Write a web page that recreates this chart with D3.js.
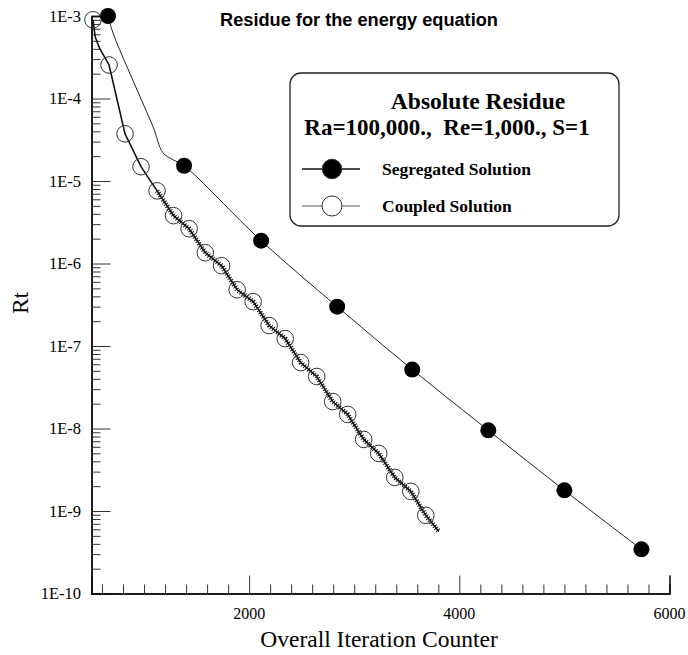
<!DOCTYPE html>
<html><head><meta charset="utf-8">
<script src="https://cdn.jsdelivr.net/npm/d3@7"></script>
<style>body{margin:0;background:#fff}svg{display:block}</style>
</head><body>
<svg id="c" width="688" height="655"></svg>
<script>
// ---- data ----
const segLineX = [657, 705, 838, 962, 1086, 1181, 1276, 1381, 2114, 2838, 3552, 4276, 5000, 5733];
const segLineY = [1e-3, 6.2e-4, 2.42e-4, 1.05e-4, 4.53e-5, 2.19e-5, 1.81e-5, 1.53e-5, 1.89e-6, 3.0e-7, 5.18e-8, 9.5e-9, 1.78e-9, 3.43e-10];
const segMarkX = [657, 1381, 2114, 2838, 3552, 4276, 5000, 5733];
const segMarkY = [1e-3, 1.53e-5, 1.89e-6, 3.0e-7, 5.18e-8, 9.5e-9, 1.78e-9, 3.43e-10];
const cpLineX = [514, 535, 560, 580, 667, 819, 971, 1124, 1281, 1429, 1583, 1738, 1886, 2038, 2190, 2343, 2490, 2643, 2795, 2938, 3090, 3233, 3386, 3538, 3681, 3805];
const cpLineY = [9e-4, 5.6e-4, 4.6e-4, 4.0e-4, 2.55e-4, 3.73e-5, 1.49e-5, 7.6e-6, 3.8e-6, 2.64e-6, 1.35e-6, 9.4e-7, 4.8e-7, 3.45e-7, 1.77e-7, 1.23e-7, 6.3e-8, 4.27e-8, 2.12e-8, 1.48e-8, 7.37e-9, 4.98e-9, 2.55e-9, 1.73e-9, 8.85e-10, 5.66e-10];
const cpMarkX = [514, 667, 819, 971, 1124, 1281, 1429, 1583, 1738, 1886, 2038, 2190, 2343, 2490, 2643, 2795, 2938, 3090, 3233, 3386, 3538, 3681];
const cpMarkY = [9e-4, 2.55e-4, 3.73e-5, 1.49e-5, 7.6e-6, 3.8e-6, 2.64e-6, 1.35e-6, 9.4e-7, 4.8e-7, 3.45e-7, 1.77e-7, 1.23e-7, 6.3e-8, 4.27e-8, 2.12e-8, 1.48e-8, 7.37e-9, 4.98e-9, 2.55e-9, 1.73e-9, 8.85e-10];
const xMajorTicks = [2000, 4000, 6000];
const yMajorTicks = [1e-10, 1e-9, 1e-8, 1e-7, 1e-6, 1e-5, 1e-4, 1e-3];
const yTickLabels = ["1E-10", "1E-9", "1E-8", "1E-7", "1E-6", "1E-5", "1E-4", "1E-3"];
const legendNames = ["Segregated Solution", "Coupled Solution"];
const chartTitle = "Residue for the energy equation";
const legendTitle1 = "Absolute Residue";
const legendTitle2 = "Ra=100,000.,  Re=1,000., S=1";

// ---- layout ----
const L = 91.5, R = 669.5, T = 16, B = 593.5;
const svg = d3.select("#c");
const x = d3.scaleLinear().domain([500, 6000]).range([L, R]);
const y = d3.scaleLog().domain([1e-10, 1e-3]).range([B, T]);
const serif = "'Liberation Serif','Times New Roman',serif";
const sans = "'Liberation Sans',Arial,sans-serif";

// title
svg.append("text").attr("x", 359).attr("y", 26).attr("text-anchor", "middle")
  .attr("font-family", sans).attr("font-weight", "bold").attr("font-size", 18.2).text(chartTitle);

// y axis
const yMinor = [];
yMajorTicks.slice(0, -1).forEach(d => { for (let k = 2; k <= 9; k++) yMinor.push(d * k); });
const gy = svg.append("g").attr("transform", `translate(${L},0)`);
gy.call(d3.axisRight(y).tickValues(yMajorTicks).tickSize(19).tickFormat(() => ""));
gy.append("g").call(d3.axisRight(y).tickValues(yMinor).tickSize(9).tickFormat(() => ""));
gy.selectAll(".domain").attr("stroke", "#111").attr("stroke-width", 1.5);
gy.selectAll(".tick line").attr("stroke", "#333");
svg.selectAll(".ylab").data(yMajorTicks).enter().append("text")
  .attr("x", 81).attr("y", d => y(d) + 5.5).attr("text-anchor", "end")
  .attr("font-family", serif).attr("font-size", 16.5).text((d, i) => yTickLabels[i]);

// x axis
const xMinor = d3.range(600, 6000, 200).filter(v => v % 2000 !== 0);
const gx = svg.append("g").attr("transform", `translate(0,${B})`);
gx.call(d3.axisTop(x).tickValues(xMajorTicks).tickSize(18).tickFormat(() => ""));
gx.append("g").call(d3.axisTop(x).tickValues(xMinor).tickSize(9).tickFormat(() => ""));
gx.selectAll(".domain").attr("stroke", "#111").attr("stroke-width", 1.5);
gx.selectAll(".tick line").attr("stroke", "#333");
svg.selectAll(".xlab").data(xMajorTicks).enter().append("text")
  .attr("x", d => x(d)).attr("y", 619).attr("text-anchor", "middle")
  .attr("font-family", serif).attr("font-size", 16).text(d => d);

// axis titles
svg.append("text").attr("x", 379).attr("y", 647).attr("text-anchor", "middle")
  .attr("font-family", serif).attr("font-size", 23.5).text("Overall Iteration Counter");
svg.append("text").attr("transform", "translate(28,303) rotate(-90)").attr("text-anchor", "middle")
  .attr("font-family", serif).attr("font-size", 23.5).text("Rt");

// lines
const segPts = segLineX.map((v, i) => [v, segLineY[i]]);
const cpPts = cpLineX.map((v, i) => [v, cpLineY[i]]);
const segLine = d3.line().x(d => x(d[0])).y(d => y(d[1])).curve(d3.curveCatmullRom.alpha(0.5));
svg.append("path").datum(segPts).attr("d", segLine)
  .attr("fill", "none").attr("stroke", "#222").attr("stroke-width", 1);
const cpLine = d3.line().x(d => x(d[0])).y(d => y(d[1]));
svg.append("path").datum(cpPts).attr("d", cpLine)
  .attr("fill", "none").attr("stroke", "#111").attr("stroke-width", 1.6);
// jagged hatch look of the coupled line
svg.append("path").datum(cpPts.filter(d => d[0] >= 1124)).attr("d", cpLine)
  .attr("fill", "none").attr("stroke", "#111").attr("stroke-width", 5).attr("stroke-dasharray", "1 1.6");

// markers
svg.selectAll(".cp").data(cpMarkX).enter().append("circle")
  .attr("cx", d => x(d)).attr("cy", (d, i) => y(cpMarkY[i])).attr("r", 8.3)
  .attr("fill", "none").attr("stroke", "#333").attr("stroke-width", 1);
svg.selectAll(".sg").data(segMarkX).enter().append("circle")
  .attr("cx", d => x(d)).attr("cy", (d, i) => y(segMarkY[i])).attr("r", 8)
  .attr("fill", "#000");

// legend
const lg = svg.append("g");
lg.append("rect").attr("x", 290).attr("y", 73).attr("width", 329).attr("height", 153).attr("rx", 11)
  .attr("fill", "#fff").attr("stroke", "#222").attr("stroke-width", 1.3);
lg.append("text").attr("x", 478).attr("y", 109).attr("text-anchor", "middle")
  .attr("font-family", serif).attr("font-weight", "bold").attr("font-size", 23.5).text(legendTitle1);
lg.append("text").attr("x", 447).attr("y", 135).attr("text-anchor", "middle")
  .style("white-space", "pre")
  .attr("font-family", serif).attr("font-weight", "bold").attr("font-size", 23).text(legendTitle2);
const rows = [169, 206];
legendNames.forEach((n, i) => {
  lg.append("line").attr("x1", 302).attr("x2", 360).attr("y1", rows[i]).attr("y2", rows[i])
    .attr("stroke", i === 0 ? "#111" : "#555").attr("stroke-width", i === 0 ? 1.4 : 1);
  lg.append("circle").attr("cx", 332).attr("cy", rows[i]).attr("r", i === 0 ? 9.8 : 10)
    .attr("fill", i === 0 ? "#000" : "#fff").attr("stroke", "#333").attr("stroke-width", 1);
  lg.append("text").attr("x", 382).attr("y", rows[i] + 5.5)
    .attr("font-family", serif).attr("font-weight", "bold").attr("font-size", 17.5).text(n);
});
</script>
</body></html>
